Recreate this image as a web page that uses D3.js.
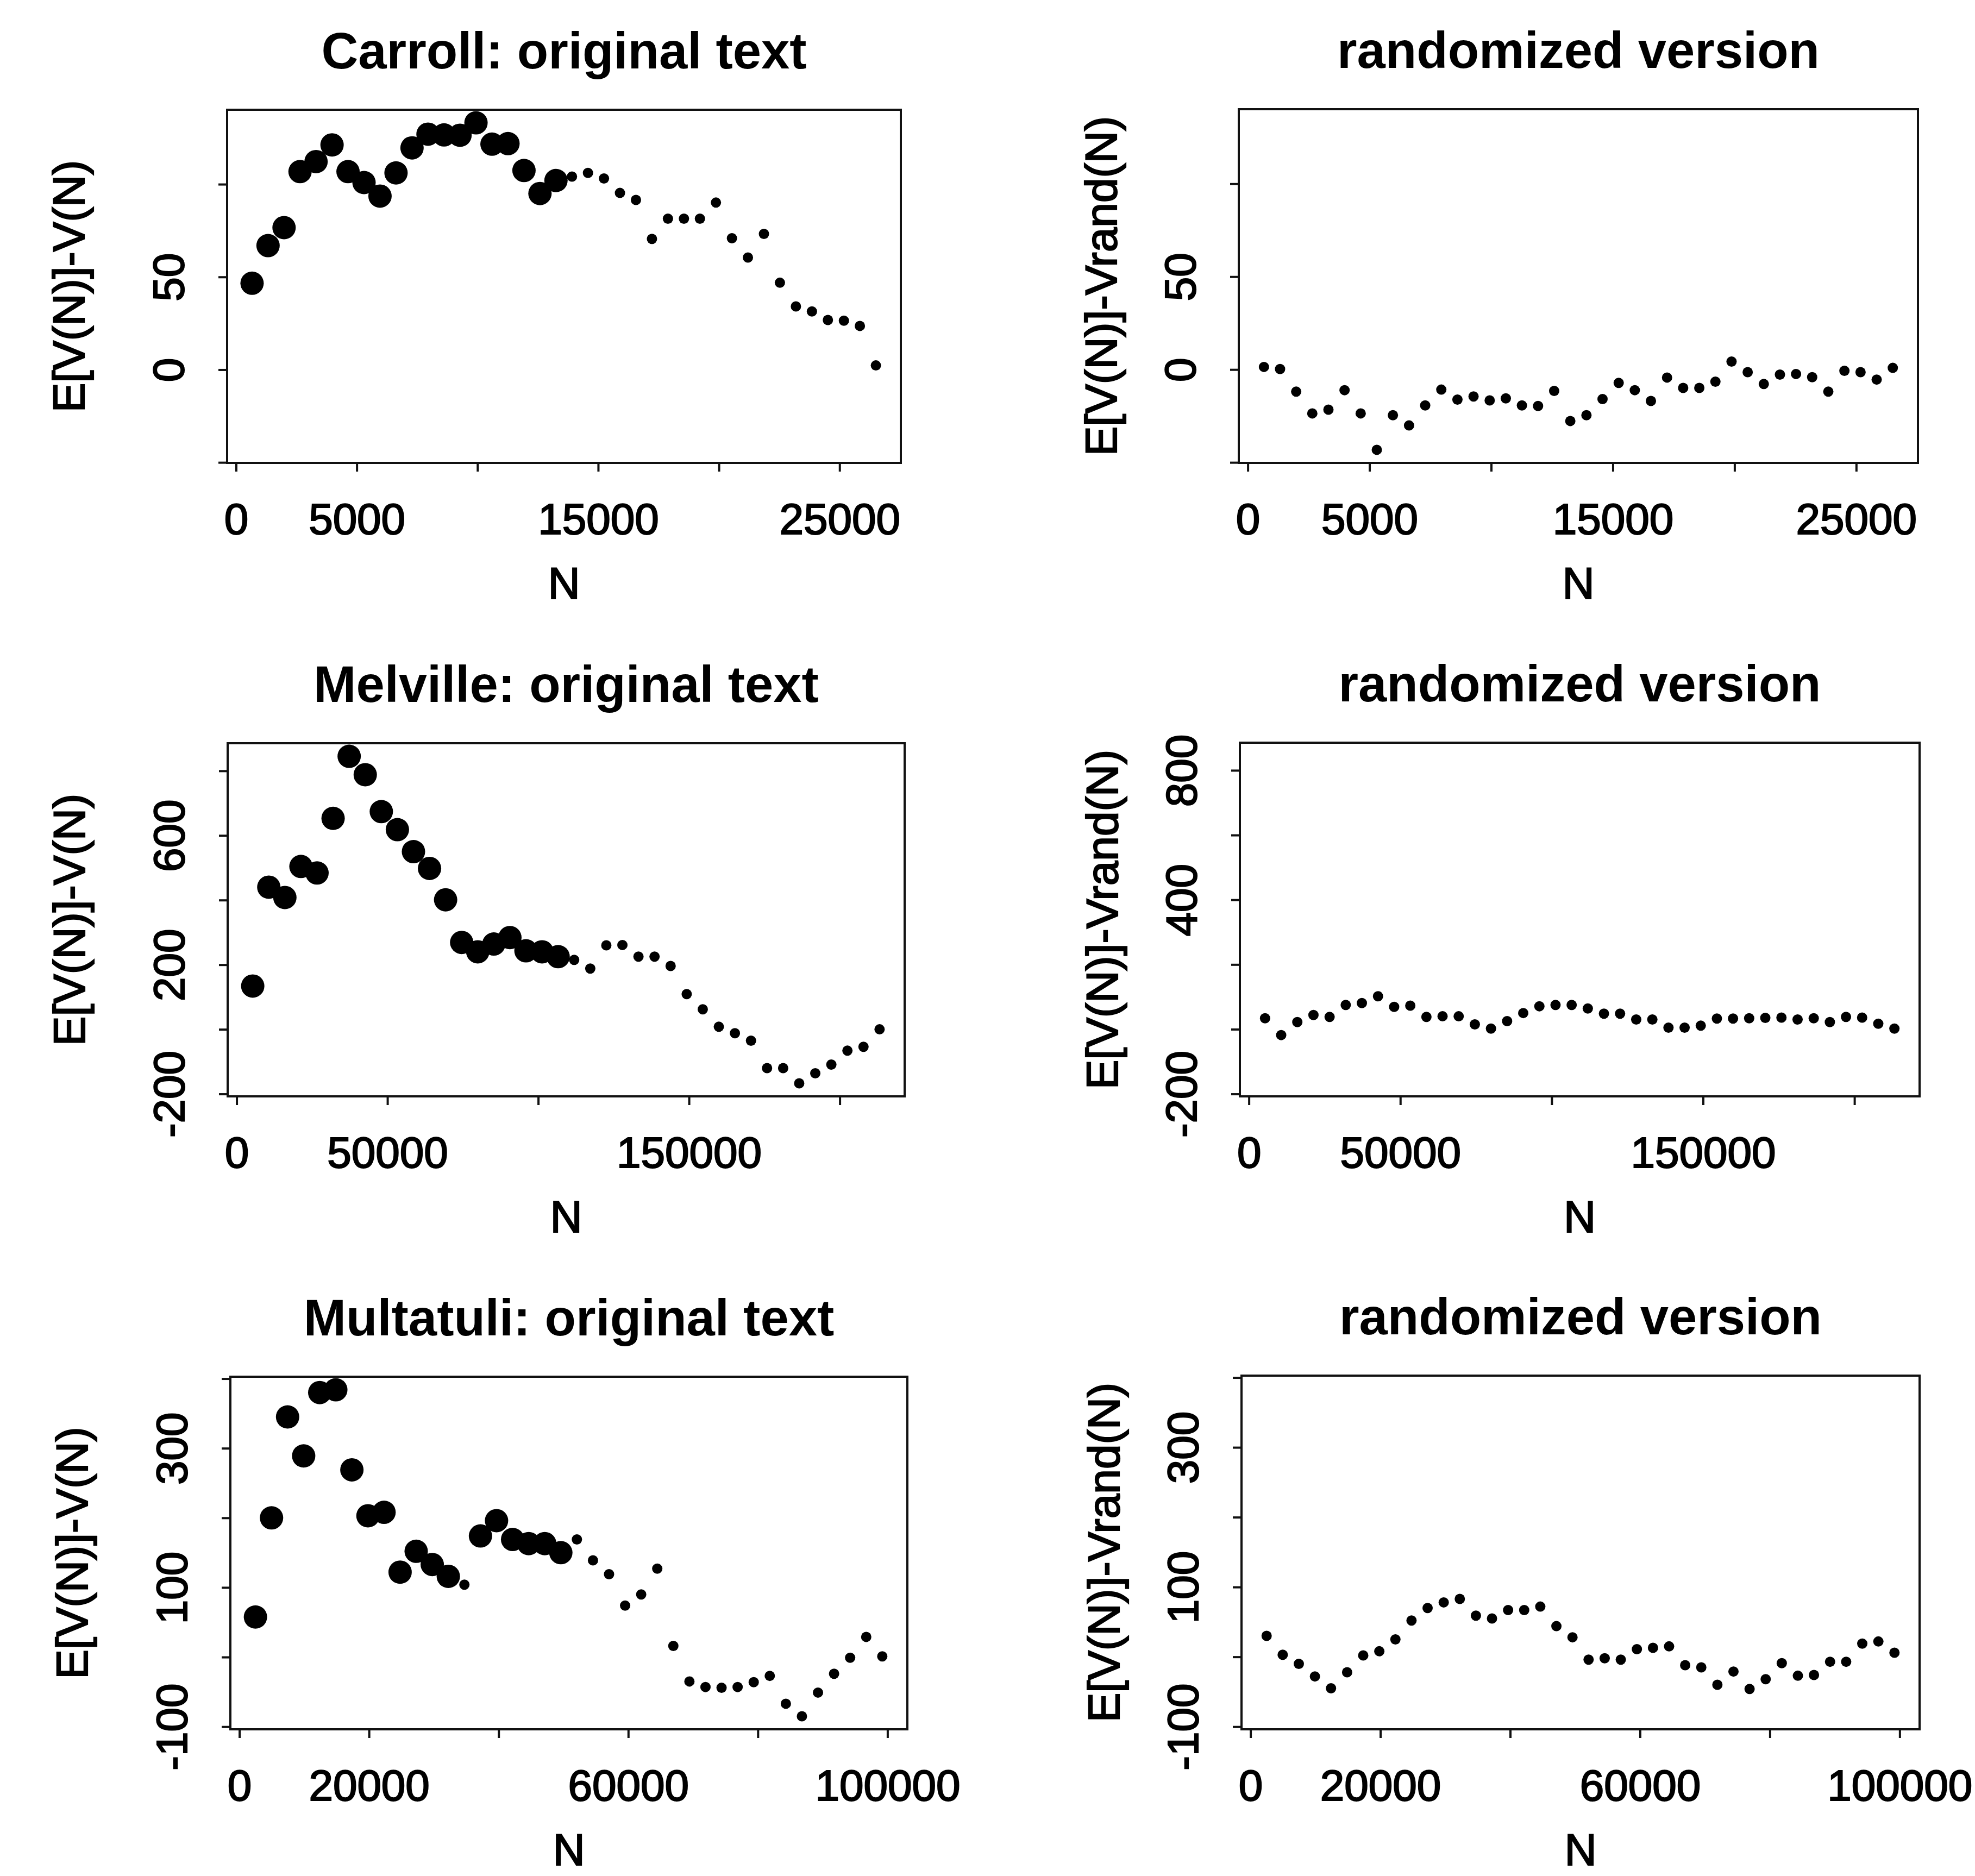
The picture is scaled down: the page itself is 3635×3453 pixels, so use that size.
<!DOCTYPE html>
<html>
<head>
<meta charset="utf-8">
<script src="https://cdn.jsdelivr.net/npm/d3@7"></script>
<style>
  body { margin: 0; background: #fff; }
  text { font-family: "Liberation Sans", Arial, Helvetica, sans-serif; }
  .heavy { stroke: #000; stroke-width: 2.2px; }
</style>
</head>
<body>
<div id="chart"></div>
<script>
// ---- data ----
const carrollN = [663, 1325, 1988, 2650, 3313, 3976, 4638, 5301, 5963, 6626,
  7289, 7951, 8614, 9276, 9939, 10602, 11264, 11927, 12589, 13252,
  13915, 14577, 15240, 15902, 16565, 17228, 17890, 18553, 19215, 19878,
  20541, 21203, 21866, 22528, 23191, 23854, 24516, 25179, 25841, 26504];
const carrollOrig = [46.6, 66.9, 76.6, 106.8, 112.2, 121.2, 106.8, 100.9, 93.6, 106.1,
  119.6, 127.0, 126.6, 126.4, 133.1, 121.6, 121.9, 107.4, 95.0, 102.0,
  104.1, 106.1, 103.1, 95.3, 91.5, 70.5, 81.4, 81.4, 81.4, 90.1,
  70.9, 60.5, 73.2, 46.9, 34.1, 31.4, 26.8, 26.4, 23.6, 2.3];
const carrollSig = [1,1,1,1,1,1,1,1,1,1, 1,1,1,1,1,1,1,1,1,1,
  0,0,0,0,0,0,0,0,0,0, 0,0,0,0,0,0,0,0,0,0];
const carrollRand = [1.4, 0.3, -11.9, -23.6, -21.6, -11.1, -23.6, -43.2, -24.6, -30.1,
  -19.3, -10.8, -16.2, -14.5, -16.6, -15.5, -19.3, -19.6, -11.5, -27.7,
  -24.6, -15.9, -7.2, -11.1, -16.9, -4.3, -9.9, -9.9, -6.5, 4.3,
  -1.4, -7.8, -2.7, -2.4, -4.1, -11.9, -0.7, -1.4, -5.4, 0.9];

const melvilleN = [5330, 10660, 15990, 21320, 26650, 31980, 37310, 42640, 47970, 53300,
  58630, 63960, 69290, 74620, 79950, 85280, 90610, 95940, 101270, 106600,
  111930, 117260, 122590, 127920, 133250, 138580, 143910, 149240, 154570, 159900,
  165230, 170560, 175890, 181220, 186550, 191880, 197210, 202540, 207870, 213200];
const melvilleOrig = [134, 440, 408, 504, 484, 653, 845, 788, 674, 618,
  550, 498, 401, 269, 240, 264, 284, 243, 240, 225,
  215, 188, 260, 261, 225, 225, 196, 109, 62, 8,
  -12, -35, -120, -120, -167, -136, -109, -66, -54, 0];
const melvilleSig = [1,1,1,1,1,1,1,1,1,1, 1,1,1,1,1,1,1,1,1,1,
  0,0,0,0,0,0,0,0,0,0, 0,0,0,0,0,0,0,0,0,0];
const melvilleRand = [34, -18, 22, 44, 38, 75, 81, 102, 69, 73,
  38, 40, 40, 15, 2, 25, 50, 71, 75, 75,
  64, 48, 48, 30, 30, 5, 5, 11, 33, 33,
  34, 35, 36, 30, 34, 22, 38, 36, 17, 2];

const multatuliN = [2480, 4960, 7440, 9920, 12400, 14880, 17360, 19840, 22320, 24800,
  27280, 29760, 32240, 34720, 37200, 39680, 42160, 44640, 47120, 49600,
  52080, 54560, 57040, 59520, 62000, 64480, 66960, 69440, 71920, 74400,
  76880, 79360, 81840, 84320, 86800, 89280, 91760, 94240, 96720, 99200];
const multatuliOrig = [57.6, 200, 345, 289, 380, 384, 269, 203, 208, 122,
  152, 133, 116, 104, 174, 196, 169, 163, 163, 150,
  169, 139, 119, 74, 90, 127, 16, -35, -43, -44,
  -43, -36, -27, -67, -85, -51, -24, -1, 29, 1];
const multatuliSig = [1,1,1,1,1,1,1,1,1,1, 1,1,1,0,1,1,1,1,1,1,
  0,0,0,0,0,0,0,0,0,0, 0,0,0,0,0,0,0,0,0,0];
const multatuliRand = [30, 3, -10, -28, -45, -22, 2, 8, 25, 52,
  70, 78, 83, 59, 55, 67, 67, 72, 44, 28,
  -4, -2, -4, 11, 13, 15, -12, -15, -40, -21,
  -46, -32, -9, -27, -26, -7, -7, 19, 22, 6];

// tick values and the labels that are printed
const carrollXTicks = [0, 5000, 10000, 15000, 20000, 25000];
const carrollXLabels = [0, 5000, 15000, 25000];
const carrollYTicks = [-50, 0, 50, 100];
const carrollYLabels = [0, 50];

const melvilleXTicks = [0, 50000, 100000, 150000, 200000];
const melvilleXLabels = [0, 50000, 150000];
const melvilleYTicks = [-200, 0, 200, 400, 600, 800];
const melvilleYLabelsOrig = [-200, 200, 600];
const melvilleYLabelsRand = [-200, 400, 800];

const multatuliXTicks = [0, 20000, 40000, 60000, 80000, 100000];
const multatuliXLabels = [0, 20000, 60000, 100000];
const multatuliYTicks = [-100, 0, 100, 200, 300, 400];
const multatuliYLabels = [-100, 100, 300];

// ---- layout ----
const width = 3635;
const height = 3453;
const ink = "#111";

const svg = d3.select("#chart")
  .append("svg")
  .attr("width", width)
  .attr("height", height)
  .style("background", "#fff");

// R-style axis range: data range widened by 4% on each side
function rRange(values) {
  const [lo, hi] = d3.extent(values);
  const pad = (hi - lo) * 0.04;
  return [lo - pad, hi + pad];
}

const panels = [
  { title: "Carroll: original text", box: [418, 202, 1658, 852], xs: carrollN, ys: carrollOrig, sig: carrollSig,
    yAll: carrollOrig.concat(carrollRand), xTicks: carrollXTicks, xLabels: carrollXLabels,
    yTicks: carrollYTicks, yLabels: carrollYLabels, ylab: "E[V(N)]-V(N)", ylabOff: 263 },
  { title: "randomized version", box: [2280, 201, 3530, 852], xs: carrollN, ys: carrollRand, sig: null,
    yAll: carrollOrig.concat(carrollRand), xTicks: carrollXTicks, xLabels: carrollXLabels,
    yTicks: carrollYTicks, yLabels: carrollYLabels, ylab: "E[V(N)]-Vrand(N)", ylabOff: 225 },
  { title: "Melville: original text", box: [419, 1368, 1665, 2018], xs: melvilleN, ys: melvilleOrig, sig: melvilleSig,
    yAll: melvilleOrig.concat(melvilleRand), xTicks: melvilleXTicks, xLabels: melvilleXLabels,
    yTicks: melvilleYTicks, yLabels: melvilleYLabelsOrig, ylab: "E[V(N)]-V(N)", ylabOff: 263 },
  { title: "randomized version", box: [2282, 1367, 3533, 2018], xs: melvilleN, ys: melvilleRand, sig: null,
    yAll: melvilleOrig.concat(melvilleRand), xTicks: melvilleXTicks, xLabels: melvilleXLabels,
    yTicks: melvilleYTicks, yLabels: melvilleYLabelsRand, ylab: "E[V(N)]-Vrand(N)", ylabOff: 225 },
  { title: "Multatuli: original text", box: [424, 2534, 1670, 3183], xs: multatuliN, ys: multatuliOrig, sig: multatuliSig,
    yAll: multatuliOrig.concat(multatuliRand), xTicks: multatuliXTicks, xLabels: multatuliXLabels,
    yTicks: multatuliYTicks, yLabels: multatuliYLabels, ylab: "E[V(N)]-V(N)", ylabOff: 263 },
  { title: "randomized version", box: [2285, 2532, 3533, 3183], xs: multatuliN, ys: multatuliRand, sig: null,
    yAll: multatuliOrig.concat(multatuliRand), xTicks: multatuliXTicks, xLabels: multatuliXLabels,
    yTicks: multatuliYTicks, yLabels: multatuliYLabels, ylab: "E[V(N)]-Vrand(N)", ylabOff: 225 }
];

function drawPanel(p) {
  const [x0, y0, x1, y1] = p.box;
  const cx = (x0 + x1) / 2;
  const cy = (y0 + y1) / 2;

  const x = d3.scaleLinear().domain(rRange(p.xs)).range([x0, x1]);
  const y = d3.scaleLinear().domain(rRange(p.yAll)).range([y1, y0]);

  const g = svg.append("g");

  // points: big dots where the original text deviates clearly
  g.selectAll("circle")
    .data(p.xs.map((n, i) => ({ n, v: p.ys[i], big: p.sig ? p.sig[i] : 0 })))
    .enter()
    .append("circle")
    .attr("cx", (d) => x(d.n))
    .attr("cy", (d) => y(d.v))
    .attr("r", (d) => (d.big ? 21.5 : 9.5))
    .attr("fill", "#000");

  // frame
  g.append("rect")
    .attr("x", x0)
    .attr("y", y0)
    .attr("width", x1 - x0)
    .attr("height", y1 - y0)
    .attr("fill", "none")
    .attr("stroke", ink)
    .attr("stroke-width", 4);

  // x axis
  const xAxis = d3.axisBottom(x)
    .tickValues(p.xTicks)
    .tickSize(16)
    .tickSizeOuter(0)
    .tickFormat((d) => (p.xLabels.includes(d) ? String(d) : ""));
  const gx = g.append("g")
    .attr("transform", `translate(0,${y1})`)
    .style("color", ink)
    .call(xAxis);
  gx.select(".domain").remove();
  gx.selectAll("line").attr("stroke-width", 4);
  gx.selectAll("text")
    .attr("class", "heavy")
    .attr("y", 131)
    .attr("dy", null)
    .attr("font-size", 80)
    .attr("font-family", "Liberation Sans, Arial, sans-serif")
    .attr("fill", "#000");

  // y axis, labels parallel to the axis
  const yAxis = d3.axisLeft(y)
    .tickValues(p.yTicks)
    .tickSize(16)
    .tickSizeOuter(0)
    .tickFormat((d) => (p.yLabels.includes(d) ? String(d) : ""));
  const gy = g.append("g")
    .attr("transform", `translate(${x0},0)`)
    .style("color", ink)
    .call(yAxis);
  gy.select(".domain").remove();
  gy.selectAll("line").attr("stroke-width", 4);
  gy.selectAll("text")
    .attr("class", "heavy")
    .attr("x", 0)
    .attr("y", -80)
    .attr("dy", null)
    .attr("text-anchor", "middle")
    .attr("transform", "rotate(-90)")
    .attr("font-size", 80)
    .attr("font-family", "Liberation Sans, Arial, sans-serif")
    .attr("fill", "#000");

  // title
  g.append("text")
    .attr("x", cx)
    .attr("y", y0 - 76)
    .attr("text-anchor", "middle")
    .attr("font-size", 94)
    .attr("font-weight", "bold")
    .attr("fill", "#000")
    .text(p.title);

  // x label
  g.append("text")
    .attr("class", "heavy")
    .attr("x", cx)
    .attr("y", y1 + 250)
    .attr("text-anchor", "middle")
    .attr("font-size", 82)
    .attr("fill", "#000")
    .text("N");

  // y label
  g.append("text")
    .attr("class", "heavy")
    .attr("transform", `translate(${x0 - p.ylabOff},${cy}) rotate(-90)`)
    .attr("text-anchor", "middle")
    .attr("font-size", 82)
    .attr("fill", "#000")
    .text(p.ylab);
}

panels.forEach(drawPanel);
</script>
</body>
</html>
